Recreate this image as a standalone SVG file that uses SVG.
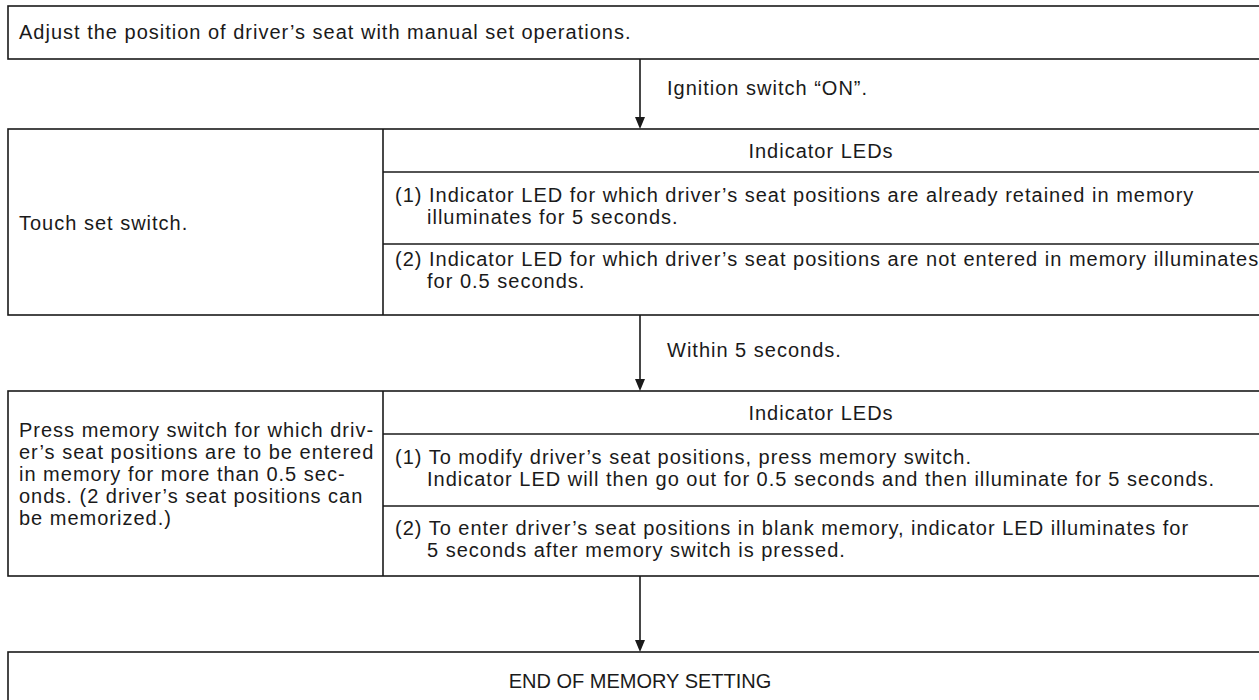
<svg xmlns="http://www.w3.org/2000/svg" width="1259" height="700" viewBox="0 0 1259 700">
<defs>
<style>
.b{fill:#fff;stroke:#1a1a1a;stroke-width:1.6}
.l{stroke:#1a1a1a;stroke-width:1.6;fill:none}
text{font-family:"Liberation Sans",Arial,sans-serif;font-size:20px;letter-spacing:1px;fill:#1a1a1a}
.c{text-anchor:middle}
</style>
<marker id="ah" viewBox="0 0 10 12" refX="5" refY="12" markerWidth="10" markerHeight="12" markerUnits="userSpaceOnUse" orient="auto-start-reverse">
<path d="M0,0 L10,0 L5,12 Z" fill="#1a1a1a"/>
</marker>
</defs>
<rect width="1259" height="700" fill="#fff"/>
<g id="connectors">
<line class="l" x1="640" y1="59" x2="640" y2="117"/>
<path d="M635,117 L645,117 L640,129 Z" fill="#1a1a1a"/>
<text x="667" y="95">Ignition switch “ON”.</text>
<line class="l" x1="640" y1="315" x2="640" y2="379"/>
<path d="M635,379 L645,379 L640,391 Z" fill="#1a1a1a"/>
<text x="667" y="357">Within 5 seconds.</text>
<line class="l" x1="640" y1="576" x2="640" y2="640"/>
<path d="M635,640 L645,640 L640,652 Z" fill="#1a1a1a"/>
</g>
<g id="n1">
<rect class="b" x="8" y="6" width="1270" height="53"/>
<text x="19" y="39">Adjust the position of driver’s seat with manual set operations.</text>
</g>
<g id="n2">
<rect class="b" x="8" y="129" width="1270" height="186"/>
<line class="l" x1="383" y1="129" x2="383" y2="315"/>
<line class="l" x1="383" y1="172" x2="1259" y2="172"/>
<line class="l" x1="383" y1="244" x2="1259" y2="244"/>
<text x="19" y="230">Touch set switch.</text>
<text class="c" x="821" y="158">Indicator LEDs</text>
<text x="395" y="202">(1) Indicator LED for which driver’s seat positions are already retained in memory</text>
<text x="427" y="224">illuminates for 5 seconds.</text>
<text x="395" y="266">(2) Indicator LED for which driver’s seat positions are not entered in memory illuminates</text>
<text x="427" y="288">for 0.5 seconds.</text>
</g>
<g id="n3">
<rect class="b" x="8" y="391" width="1270" height="185"/>
<line class="l" x1="383" y1="391" x2="383" y2="576"/>
<line class="l" x1="383" y1="434" x2="1259" y2="434"/>
<line class="l" x1="383" y1="506" x2="1259" y2="506"/>
<text x="19" y="437">Press memory switch for which driv-</text>
<text x="19" y="459">er’s seat positions are to be entered</text>
<text x="19" y="481">in memory for more than 0.5 sec-</text>
<text x="19" y="503">onds. (2 driver’s seat positions can</text>
<text x="19" y="525">be memorized.)</text>
<text class="c" x="821" y="420">Indicator LEDs</text>
<text x="395" y="464">(1) To modify driver’s seat positions, press memory switch.</text>
<text x="427" y="486">Indicator LED will then go out for 0.5 seconds and then illuminate for 5 seconds.</text>
<text x="395" y="535">(2) To enter driver’s seat positions in blank memory, indicator LED illuminates for</text>
<text x="427" y="557">5 seconds after memory switch is pressed.</text>
</g>
<g id="n4">
<rect class="b" x="8" y="652" width="1270" height="70"/>
<text class="c" x="640" y="688" style="letter-spacing:0">END OF MEMORY SETTING</text>
</g>
</svg>
